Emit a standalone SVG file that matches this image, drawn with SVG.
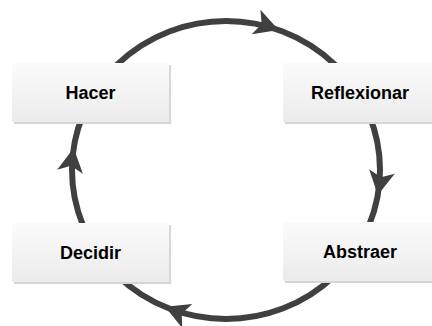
<svg xmlns="http://www.w3.org/2000/svg" xmlns:xlink="http://www.w3.org/1999/xlink" width="432" height="326" viewBox="0 0 432 326">
  <defs>
    <linearGradient id="boxg" x1="0" y1="0" x2="0" y2="1">
      <stop offset="0" stop-color="#fbfbfb"/>
      <stop offset="1" stop-color="#ebebeb"/>
    </linearGradient>
    <polygon id="ah" points="0,0 -24,-13 -18,0 -24,13" fill="#404040"/>
    <style>
      .ring { fill: none; stroke: #404040; stroke-width: 6; }
      .shadow { fill: #d6d6d6; }
      .box { fill: url(#boxg); }
      .lbl { font-family: "Liberation Sans", Arial, sans-serif; font-weight: bold; font-size: 18px; fill: #000; text-anchor: middle; }
    </style>
  </defs>
  <rect width="432" height="326" fill="#ffffff"/>
  <g id="connectors">
    <ellipse class="ring" cx="226" cy="170" rx="154" ry="149"/>
    <use xlink:href="#ah" transform="translate(278.7,30) rotate(19.4)"/>
    <use xlink:href="#ah" transform="translate(377.8,195.1) rotate(100)"/>
    <use xlink:href="#ah" transform="translate(165.1,306.8) rotate(202.6)"/>
    <use xlink:href="#ah" transform="translate(73.7,148) rotate(-81.2)"/>
  </g>
  <g id="hacer">
    <rect class="shadow" x="14" y="65" width="157" height="59"/>
    <rect class="box" x="12" y="63" width="157" height="59"/>
    <text class="lbl" x="90.5" y="98.5">Hacer</text>
  </g>
  <g id="reflexionar">
    <rect class="shadow" x="285" y="65" width="157" height="59"/>
    <rect class="box" x="283" y="63" width="157" height="59"/>
    <text class="lbl" x="360" y="98.5">Reflexionar</text>
  </g>
  <g id="abstraer">
    <rect class="shadow" x="285" y="224" width="157" height="59"/>
    <rect class="box" x="283" y="222" width="157" height="59"/>
    <text class="lbl" x="360" y="258">Abstraer</text>
  </g>
  <g id="decidir">
    <rect class="shadow" x="14" y="225" width="157" height="59"/>
    <rect class="box" x="12" y="223" width="157" height="59"/>
    <text class="lbl" x="90.5" y="258.5">Decidir</text>
  </g>
</svg>
